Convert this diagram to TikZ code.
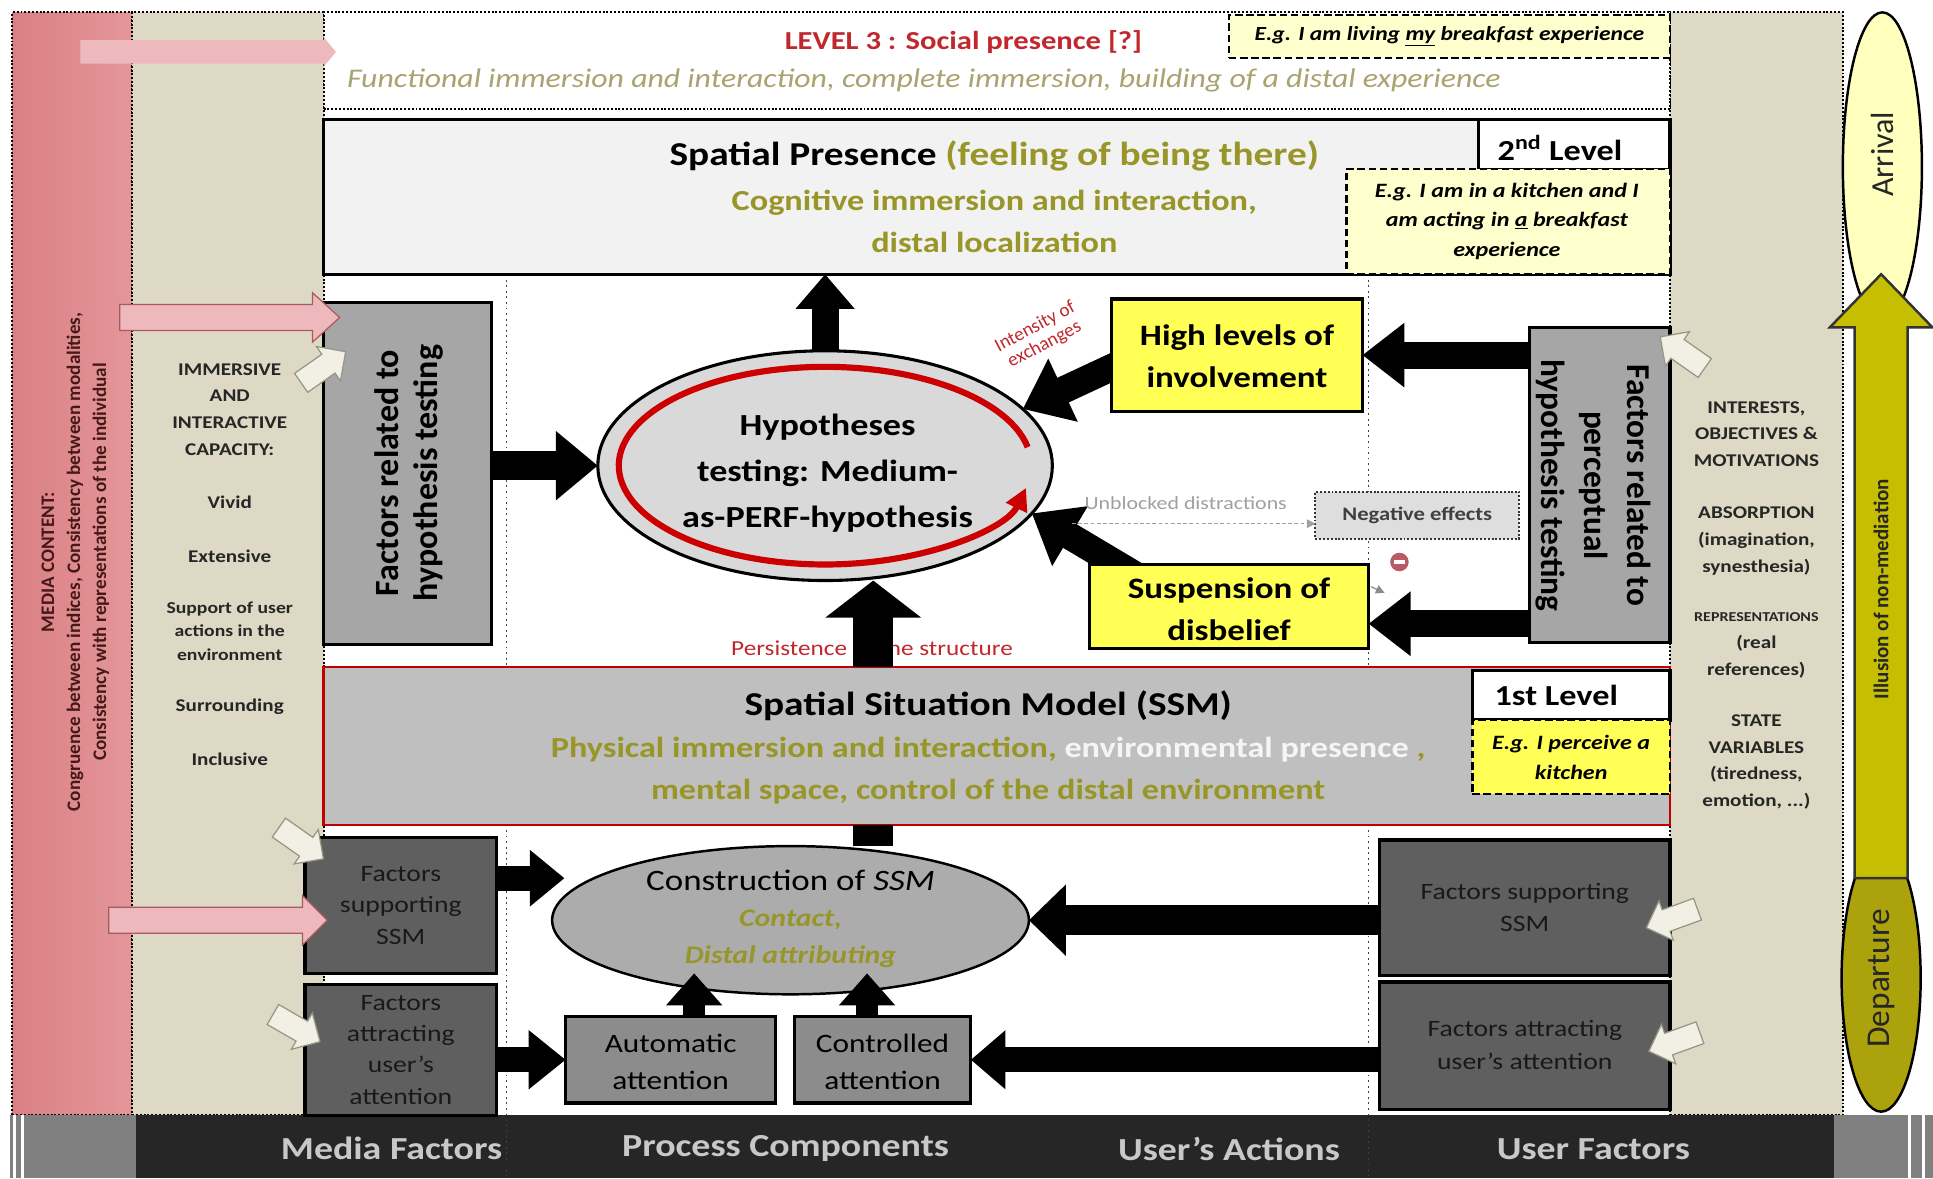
\documentclass[tikz,border=0pt]{standalone}
\usepackage{fontspec}
\setmainfont{Carlito}[FakeStretch=1.18]
\newfontfamily\rotfont{Carlito}
\usetikzlibrary{arrows.meta,shapes.geometric,shapes.arrows,calc}
\pgfdeclarelayer{bg}
\pgfdeclarelayer{behind}
\pgfsetlayers{bg,behind,main}
\newcommand\myfs[2]{\fontsize{#1pt}{#2pt}\selectfont}
\newcommand\hblock[6]{\draw[#1] ($(#2)+(0pt,#4pt)$) -- ($(#3)+(-#6pt,#4pt)$) -- ($(#3)+(-#6pt,#5pt)$) -- (#3) -- ($(#3)+(-#6pt,-#5pt)$) -- ($(#3)+(-#6pt,-#4pt)$) -- ($(#2)+(0pt,-#4pt)$) -- cycle;}
\definecolor{redcol}{RGB}{228,150,153}
\definecolor{redcolD}{RGB}{218,128,132}
\definecolor{beige}{RGB}{221,217,196}
\definecolor{olive}{RGB}{152,150,40}
\definecolor{oliveI}{RGB}{168,163,112}
\definecolor{darkred}{RGB}{192,40,45}
\definecolor{yel}{RGB}{255,255,85}
\definecolor{lyel}{RGB}{255,255,205}
\definecolor{arrY}{RGB}{255,255,190}
\definecolor{depO}{RGB}{172,162,12}
\definecolor{bigO}{RGB}{198,190,0}
\definecolor{bandc}{RGB}{38,38,38}
\definecolor{bandtxt}{RGB}{200,200,200}
\definecolor{pinkA}{RGB}{238,185,188}
\definecolor{pinkB}{RGB}{170,90,95}
\definecolor{creamA}{RGB}{242,240,228}
\definecolor{creamB}{RGB}{150,150,135}
\definecolor{lgray}{RGB}{242,242,242}
\definecolor{mgray}{RGB}{166,166,166}
\definecolor{hgray}{RGB}{217,217,217}
\definecolor{sgray}{RGB}{191,191,191}
\definecolor{dgray}{RGB}{95,95,95}
\definecolor{agray}{RGB}{140,140,140}
\definecolor{cgray}{RGB}{172,172,172}
\definecolor{neggray}{RGB}{222,222,222}
\definecolor{txtgray}{RGB}{160,160,160}
\definecolor{colred}{RGB}{70,25,25}
\definecolor{noent}{RGB}{185,90,100}
\begin{document}
\begin{tikzpicture}[x=1pt,y=-1pt,
  every node/.style={inner sep=0pt,outer sep=0pt},
  rbox/.style 2 args={rectangle,minimum width=#1pt,minimum height=#2pt},
  dotb/.style={draw=black,line width=1.6pt,dash pattern=on 1.6pt off 1.5pt},
  dashb/.style={draw=black,line width=2pt,dash pattern=on 6pt off 3pt},
  solidb/.style={draw=black,line width=2.6pt},
  tt/.style 2 args={font={\myfs{#1}{#2}},align=center},
  ttb/.style 2 args={font={\bfseries\myfs{#1}{#2}},align=center},
  tti/.style 2 args={font={\bfseries\itshape\myfs{#1}{#2}},align=center},
  rt/.style 2 args={font={\rotfont\myfs{#1}{#2}},align=center},
  rtb/.style 2 args={font={\rotfont\bfseries\myfs{#1}{#2}},align=center},
  blk/.style={draw=black,line cap=butt},
  pinkarr/.style={fill=pinkA,draw=pinkB,line width=1pt},
  cream/.style={single arrow,draw=creamB,fill=creamA,line width=1pt,minimum height=44pt,minimum width=34pt,single arrow head extend=7pt,inner sep=8pt}]
\useasboundingbox (0,0) rectangle (1565,954);
\begin{pgfonlayer}{bg}
\fill[white] (0,0) rectangle (1565,954);
\node[rbox={97}{893},left color=redcolD,right color=redcol,dotb] (redc) at (58.5,456.5) {};
\node[rbox={155}{893},fill=beige,dotb] (beigeL) at (184.5,456.5) {};
\node[rbox={140}{893},fill=beige,dotb] (beigeR) at (1422,456.5) {};
\node[rbox={1090}{78},fill=white,dotb] (lvl3) at (807,49) {};
% bottom band
\node[rbox={1375}{51},fill=bandc] (band) at (797.5,928.5) {};
\node[rbox={102}{51},fill=gray] (bandL) at (59,928.5) {};
\node[rbox={80}{51},fill=gray] (bandR) at (1525,928.5) {};
\draw[white,line width=2.5pt] (bandL.north west) ++(4pt,0) coordinate (wl1) -- (wl1 |- bandL.south);
\draw[white,line width=2.5pt] (bandL.north west) ++(10pt,0) coordinate (wl2) -- (wl2 |- bandL.south);
\draw[white,line width=2.5pt] (bandR.north east) ++(-19pt,0) coordinate (wr1) -- (wr1 |- bandR.south);
\draw[white,line width=2.5pt] (bandR.north east) ++(-8pt,0) coordinate (wr2) -- (wr2 |- bandR.south);
% vertical dotted separators
\coordinate (v1t) at (410,222); \coordinate (v1b) at (410,954);
\coordinate (v2t) at (1108,222); \coordinate (v2b) at (1108,954);
\draw[black!75,line width=1.4pt,dash pattern=on 1.5pt off 3pt] (v1t) -- (v1b);
\draw[black!75,line width=1.4pt,dash pattern=on 1.5pt off 3pt] (v2t) -- (v2b);
\end{pgfonlayer}
% band texts
\node[ttb={26}{30},text=bandtxt] (bt1) at (317,930) {Media Factors};
\node[ttb={26}{30},text=bandtxt] (bt2) at (636,930) {Process Components};
\node[ttb={26}{30},text=bandtxt] (bt3) at (995,930) {User’s Actions};
\node[ttb={26}{30},text=bandtxt] (bt4) at (1290,930) {User Factors};
% left red column text
\node[rtb={15.5}{21},text=colred,rotate=90] (redtx) at (61,455) {MEDIA CONTENT:\\Congruence between indices, Consistency between modalities,\\Consistency with representations of the individual};
% left beige texts
\node[ttb={14.5}{21.5},text=black!85] (bl1) at (186,331.5) {IMMERSIVE\\AND\\INTERACTIVE\\CAPACITY:};
\node[ttb={14.5}{21.5},text=black!85] (bl2) at (186,407) {Vivid};
\node[ttb={14.5}{21.5},text=black!85] (bl3) at (186,450) {Extensive};
\node[ttb={13.5}{19},text=black!85] (bl4) at (186,511) {Support of user\\actions in the\\environment};
\node[ttb={14.5}{21.5},text=black!85] (bl5) at (186,572) {Surrounding};
\node[ttb={14.5}{21.5},text=black!85] (bl6) at (186,615) {Inclusive};
% right beige texts
\node[ttb={14.5}{21.5},text=black!85] (br1) at (1422,351.5) {INTERESTS,\\OBJECTIVES \&\\MOTIVATIONS};
\node[ttb={14.5}{21.5},text=black!85] (br2) at (1422,438) {ABSORPTION\\(imagination,\\synesthesia)};
\node[ttb={11}{14},text=black!85] (br3) at (1422,500) {REPRESENTATIONS};
\node[ttb={14.5}{21.5},text=black!85] (br4) at (1422,531.5) {(real\\references)};
\node[ttb={14.5}{21.5},text=black!85] (br5) at (1422,617) {STATE\\VARIABLES\\(tiredness,\\emotion, ...)};
% level 3
\node[ttb={21}{25},text=darkred] (l3t) at (780,34) {LEVEL 3 : Social presence [?]};
\node[font={\itshape\myfs{21.8}{24}},text=oliveI] (l3s) at (748,65) {Functional immersion and interaction, complete immersion, building of a distal experience};
\node[rbox={357}{35},fill=lyel,dashb] (eg3) at (1173.5,29.5) {};
\node[tti={16.2}{19}] (eg3t) at (1173.5,29.5) {E.g. I am living \underline{my} breakfast experience};
% spatial presence
\node[rbox={1090}{125},fill=lgray,solidb] (sp) at (807,159.5) {};
\node[rbox={155}{40},fill=white,solidb] (lvl2) at (1274.5,117) {};
\node[rbox={262}{85},fill=lyel,dashb] (eg2) at (1221,179.5) {};
\node[ttb={23.5}{28}] (lvl2t) at (1263,120) {2\textsuperscript{nd} Level};
\node[tti={16.5}{24}] (eg2t) at (1220,179) {E.g. I am in a kitchen and I\\am acting in \underline{a} breakfast\\experience};
\node[ttb={27}{32}] (spt) at (805,126) {Spatial Presence {\color{olive}(feeling of being there)}};
\node[ttb={23.5}{34},text=olive] (sps) at (805,179) {Cognitive immersion and interaction,\\distal localization};
% factors related to hypothesis testing
\node[rbox={136}{277},fill=mgray,solidb] (fht) at (330,383.5) {};
\node[rtb={27.5}{32},rotate=90] (fhtt) at (331,383) {Factors related to\\hypothesis testing};
\node[rbox={114}{255},fill=mgray,solidb] (fph) at (1295,392.5) {};
\node[rtb={27}{35},rotate=-90] (fpht) at (1290,393) {Factors related to\\perceptual\\hypothesis testing};
% hypotheses ellipse
\node[ellipse,minimum width=368pt,minimum height=186pt,fill=hgray,draw=black,line width=2.5pt] (hyp) at (668,377) {};
\draw[red!80!black,line width=5pt,-{Triangle[length=18pt,width=18pt]}] (hyp.center) ++(10.8:167pt and 80pt) arc[start angle=10.8,end angle=347,x radius=167pt,y radius=80pt];
\node[ttb={24.8}{37.5}] (hypt) at (670,383) {Hypotheses\\testing: Medium-\\as-PERF-hypothesis};
% yellow boxes
\node[rbox={203}{91},fill=yel,solidb] (high) at (1001.5,287.5) {};
\node[ttb={24}{34}] (hight) at (1001.5,288) {High levels of\\involvement};
\node[rbox={226}{68},fill=yel,solidb] (susp) at (995,491) {};
\node[ttb={24}{34}] (suspt) at (995,493) {Suspension of\\disbelief};
\begin{pgfonlayer}{behind}
\draw[blk,line width=22pt,-{Triangle[length=36pt,width=54pt]}] ([shift={(30pt,4pt)}]high.west) -- (hyp.16);
\draw[blk,line width=22pt,-{Triangle[length=36pt,width=54pt]}] ([shift={(48pt,-15pt)}]susp.north west) -- (hyp.-13);
\end{pgfonlayer}
\node[font={\rotfont\myfs{15.5}{16}},text=darkred,rotate=28,align=center] (inten) at (842,272) {Intensity of\\exchanges};
% negative effects
\node[rbox={165}{38},fill=neggray,draw=black!80,line width=1.6pt,dash pattern=on 1.6pt off 1.5pt] (neg) at (1147.5,417) {};
\node[ttb={15.5}{18},text=black!75] (negt) at (1147.5,417) {Negative effects};
\coordinate (ud) at (868,424);
\draw[txtgray,line width=1pt,dash pattern=on 3pt off 2pt,-{Triangle[length=7pt,width=7pt]}] (ud) -- (neg.west |- ud);
\node[tt={15}{18},text=txtgray] (unbl) at (960,407) {Unblocked distractions};
\node[circle,fill=noent,minimum size=15pt] (noentry) at (1133,455) {};
\draw[white,line width=2.5pt] ([xshift=-4.5pt]noentry.center) -- ([xshift=4.5pt]noentry.center);
\coordinate (gt1) at (1110,475); \coordinate (gt2) at (1121,480);
\draw[black!45,line width=1pt,-{Triangle[length=7pt,width=7pt]}] (gt1) -- (gt2);
% arrows in the upper part
\draw[blk,line width=24pt,-{Triangle[length=34pt,width=54pt]}] (fht.east |- hyp.west) -- (hyp.west);
\draw[blk,line width=22pt,-{Triangle[length=28pt,width=46pt]}] (hyp.north) -- (hyp.north |- sp.south);
\draw[blk,line width=22pt,-{Triangle[length=34pt,width=50pt]}] (fph.west |- high.east) -- (high.east);
\coordinate (s6) at (1108,505);
\draw[blk,line width=22pt,-{Triangle[length=34pt,width=50pt]}] (fph.west |- s6) -- (s6);
% SSM
\node[rbox={1090}{128},fill=sgray,draw=red!75!black,line width=2pt] (ssm) at (807,604) {};
\node[rbox={160}{40},fill=white,solidb] (lvl1) at (1272,563) {};
\node[rbox={160}{60},fill=yel,dashb] (eg1) at (1272,613) {};
\node[ttb={23.5}{28}] (lvl1t) at (1260,563) {1st Level};
\node[tti={16.5}{24}] (eg1t) at (1272,613) {E.g. I perceive a\\kitchen};
\node[ttb={27}{32}] (ssmt) at (800,571) {Spatial Situation Model (SSM)};
\node[ttb={23.5}{34},text=olive] (ssms) at (800,624) {Physical immersion and interaction, {\color{white!92!gray}environmental presence} ,\\mental space, control of the distal environment};
\node[tt={17.3}{20},text=darkred] (pers) at (706,525) {Persistence of the structure};
\coordinate (px) at (707,0);
\draw[blk,line width=32pt,-{Triangle[length=30pt,width=76pt]}] (ssm.north -| px) -- (hyp.south -| px);
% construction
\node[ellipse,minimum width=386pt,minimum height=120pt,fill=cgray,draw=black,line width=2pt] (cons) at (640,745) {};
\draw[blk,line width=32pt] (cons.north -| px) -- (ssm.south -| px);
\node[tt={24}{28}] (const) at (640,713) {Construction of \textit{SSM}};
\node[tti={20.5}{30},text=olive] (conss) at (640,760) {Contact,\\Distal attributing};
% left media factor boxes
\node[rbox={155}{110},fill=dgray,solidb] (fsL) at (324.5,733) {};
\node[tt={19}{25.5},text=black!90] (fsLt) at (324.5,733) {Factors\\supporting\\SSM};
\node[rbox={155}{106},fill=dgray,solidb] (faL) at (324.5,850) {};
\node[tt={19}{25.3},text=black!90] (faLt) at (324.5,850) {Factors\\attracting\\user’s\\attention};
% attention boxes
\node[rbox={170}{70},fill=agray,solidb] (auto) at (543,858) {};
\node[tt={21.5}{30}] (autot) at (543,860) {Automatic\\attention};
\node[rbox={143}{70},fill=agray,solidb] (ctrl) at (714.5,858) {};
\node[tt={21.5}{30}] (ctrlt) at (714.5,860) {Controlled\\attention};
% right user factor boxes
\node[rbox={235}{110},fill=dgray,solidb] (fsR) at (1234.5,735) {};
\node[tt={19}{26},text=black!90] (fsRt) at (1234.5,735) {Factors supporting\\SSM};
\node[rbox={235}{103},fill=dgray,solidb] (faR) at (1234.5,846.5) {};
\node[tt={19}{26},text=black!90] (faRt) at (1234.5,846) {Factors attracting\\user’s attention};
% lower arrows
\coordinate (t9) at (457,711);
\draw[blk,line width=20pt,-{Triangle[length=28pt,width=44pt]}] (fsL.east |- t9) -- (t9);
\draw[blk,line width=20pt,-{Triangle[length=30pt,width=46pt]}] (faL.east |- auto.west) -- (auto.west);
\coordinate (u1) at (562,788); \coordinate (u2) at (702,788);
\draw[blk,line width=18pt,-{Triangle[length=26pt,width=44pt]}] (auto.north -| u1) -- (u1);
\draw[blk,line width=18pt,-{Triangle[length=26pt,width=44pt]}] (ctrl.north -| u2) -- (u2);
\draw[blk,line width=24pt,-{Triangle[length=30pt,width=56pt]}] (fsR.west |- cons.east) -- (cons.east);
\draw[blk,line width=20pt,-{Triangle[length=28pt,width=46pt]}] (faR.west |- ctrl.east) -- (ctrl.east);
% pink arrows
\coordinate (p1s) at (65,42); \coordinate (p1e) at (272,42);
\hblock{pinkarr,draw=none}{p1s}{p1e}{9.5}{12}{10}
\coordinate (p2s) at (97,257); \coordinate (p2e) at (275,257);
\hblock{pinkarr}{p2s}{p2e}{10.5}{20}{22}
\coordinate (p3s) at (88,745); \coordinate (p3e) at (265,745);
\hblock{pinkarr}{p3s}{p3e}{10.5}{20}{20}
% cream arrows
\node[cream,rotate=35] (cr1) at (258,300) {};
\node[cream,rotate=-35] (cr2) at (240,680) {};
\node[cream,rotate=-30] (cr3) at (236,830) {};
\node[cream,rotate=145] (cr4) at (1366,288) {};
\node[cream,rotate=200] (cr5) at (1358,742) {};
\node[cream,rotate=200] (cr6) at (1360,842) {};
% arrival / departure
\node[ellipse,minimum width=64pt,minimum height=250pt,fill=arrY,draw=black,line width=2pt] (arr) at (1524,135) {};
\node[ellipse,minimum width=64pt,minimum height=216pt,fill=depO,draw=black,line width=2pt] (dep) at (1523,792) {};
\coordinate (bA) at (1523,711); \coordinate (bB) at (1523,222);
\draw[fill=bigO,draw=black!80,line width=2pt,line join=miter] ($(bA)+(-21.5pt,0pt)$) -- ($(bB)+(-21.5pt,-43pt)$) -- ($(bB)+(-41.5pt,-43pt)$) -- (bB) -- ($(bB)+(41.5pt,-43pt)$) -- ($(bB)+(21.5pt,-43pt)$) -- ($(bA)+(21.5pt,0pt)$) -- cycle;
\node[rt={26}{30},rotate=90,text=black!85] (arrt) at (1524,125) {Arrival};
\node[rt={27}{30},rotate=90,text=black!85] (dept) at (1523,792) {Departure};
\node[rtb={17}{20},rotate=90,text=black!85] (illt) at (1523,477) {Illusion of non-mediation};
\end{tikzpicture}
\end{document}
